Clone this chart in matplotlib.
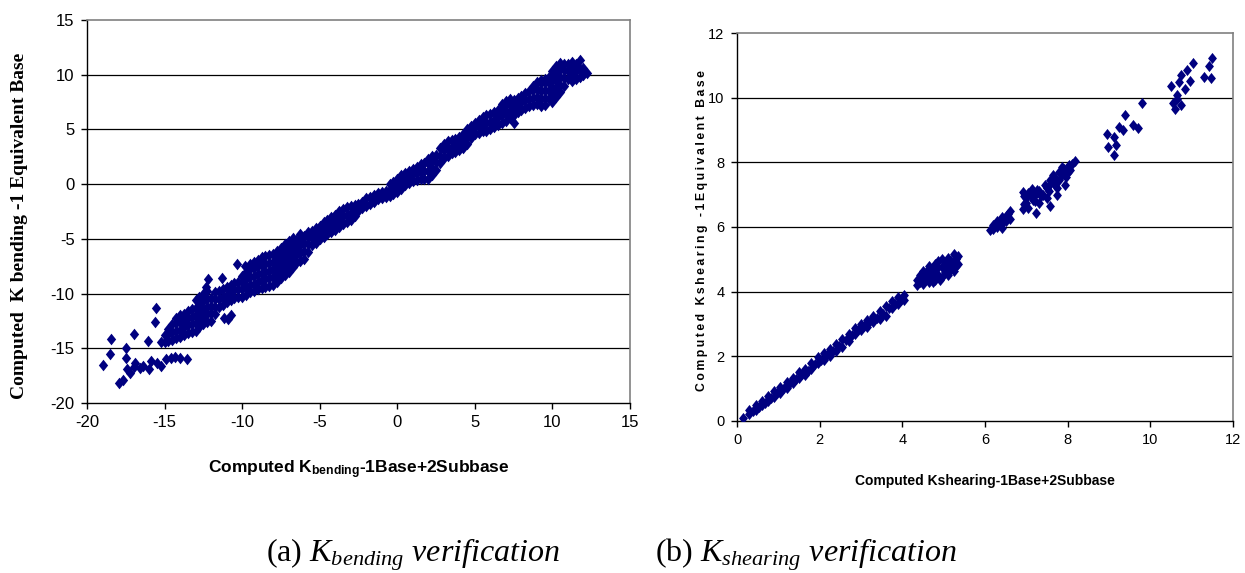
import matplotlib
matplotlib.use("Agg")
import matplotlib.pyplot as plt
from matplotlib.ticker import MultipleLocator

# ---- K bending: 1 Base + 2 Subbase vs 1 Equivalent Base ----
# main band: one x per column, with the y values found in that column
bend_col_x = [
    -15.0, -14.75, -14.5, -14.25, -14.0, -13.75, -13.5, -13.25,
    -13.0, -12.75, -12.5, -12.25, -12.0, -11.75, -11.5, -11.25,
    -11.0, -10.75, -10.5, -10.25, -10.0, -9.75, -9.5, -9.25,
    -9.0, -8.75, -8.5, -8.25, -8.0, -7.75, -7.5, -7.25,
    -7.0, -6.75, -6.5, -6.25, -6.0, -5.75, -5.5, -5.25,
    -5.0, -4.75, -4.5, -4.25, -4.0, -3.75, -3.5, -3.25,
    -3.0, -2.75, -2.5, -2.25, -2.0, -1.75, -1.5, -1.25,
    -1.0, -0.75, -0.5, -0.25, 0.0, 0.25, 0.5, 0.75,
    1.0, 1.25, 1.5, 1.75, 2.0, 2.25, 2.5, 2.75,
    3.0, 3.25, 3.5, 3.75, 4.0, 4.25, 4.5, 4.75,
    5.0, 5.25, 5.5, 5.75, 6.0, 6.25, 6.5, 6.75,
    7.0, 7.25, 7.5, 7.75, 8.0, 8.25, 8.5, 8.75,
    9.0, 9.25, 9.5, 9.75, 10.0, 10.25, 10.5, 10.75,
    11.0, 11.25, 11.5, 11.75, 12.0, 12.2,
]
bend_col_y = [
    [-14.4, -13.8], [-14.3, -13.7, -13.2], [-14.2, -13.5, -12.8], [-14.1, -13.4, -12.7, -12.2],
    [-14.0, -13.3, -12.6, -12.0], [-13.8, -13.1, -12.4, -11.9], [-13.6, -12.9, -12.2, -11.6],
    [-13.5, -12.8, -12.1, -11.4],
    [-13.4, -12.7, -12.0, -11.3, -10.6], [-13.1, -12.4, -11.7, -11.0, -10.3],
    [-12.8, -12.1, -11.4, -10.7, -10.0], [-12.6, -11.9, -11.2, -10.5, -9.8],
    [-12.5, -11.8, -11.1, -10.4], [-11.9, -11.2, -10.5, -9.9], [-11.2, -10.5, -9.8],
    [-11.0, -10.3, -9.6],
    [-10.8, -10.1, -9.4], [-10.6, -9.9, -9.2], [-10.4, -9.7, -9.0], [-10.3, -9.6, -8.9],
    [-10.3, -9.6, -8.9, -8.4], [-10.1, -9.4, -8.7, -8.0], [-9.9, -9.2, -8.5, -7.8, -7.3],
    [-9.8, -9.1, -8.4, -7.7, -7.1],
    [-9.6, -8.9, -8.2, -7.5, -6.9], [-9.5, -8.8, -8.1, -7.4, -6.7], [-9.4, -8.7, -8.0, -7.3, -6.6],
    [-9.3, -8.6, -7.9, -7.2, -6.5], [-9.2, -8.5, -7.8, -7.1, -6.4], [-8.9, -8.2, -7.5, -6.8, -6.1],
    [-8.6, -7.9, -7.2, -6.5, -5.8], [-8.3, -7.6, -6.9, -6.2, -5.5],
    [-8.0, -7.3, -6.6, -5.9, -5.2], [-7.6, -6.9, -6.2, -5.5, -4.9], [-7.2, -6.5, -5.8, -5.1],
    [-7.0, -6.3, -5.6, -4.9, -4.6], [-6.8, -6.1, -5.4, -4.7], [-6.2, -5.5, -4.8, -4.4],
    [-5.6, -4.9, -4.3], [-5.4, -4.7, -4.0],
    [-5.0, -4.4, -3.8], [-4.8, -4.2, -3.5], [-4.6, -3.9, -3.3], [-4.4, -3.7, -3.0],
    [-4.2, -3.5, -2.8], [-3.9, -3.2, -2.5], [-3.6, -2.9, -2.3], [-3.5, -2.8, -2.1],
    [-3.3, -2.6, -2.0], [-2.9, -2.2, -1.9], [-2.5, -1.8], [-2.2, -1.6],
    [-2.0, -1.3], [-1.8, -1.2], [-1.6, -1.0], [-1.4, -0.8],
    [-1.3, -0.7], [-1.2, -0.6], [-1.1, -0.5, 0.0], [-0.9, -0.3, 0.2],
    [-0.7, -0.1, 0.5], [-0.4, 0.3, 0.8], [-0.1, 0.5, 1.0], [0.1, 0.7, 1.2],
    [0.3, 0.9, 1.4], [0.4, 1.0, 1.6], [0.5, 1.2, 1.8], [0.5, 1.2, 1.9],
    [0.5, 1.2, 1.9, 2.3], [0.8, 1.5, 2.2, 2.6], [1.3, 2.0, 2.7], [1.9, 2.6, 3.3],
    [2.4, 3.1, 3.7], [2.6, 3.3, 3.9], [2.8, 3.4, 4.0], [2.9, 3.5, 4.1],
    [3.1, 3.7, 4.3], [3.3, 4.0, 4.6], [3.7, 4.4, 5.0], [4.2, 4.8, 5.3],
    [4.6, 5.2, 5.6], [4.7, 5.3, 5.9], [4.9, 5.5, 6.1], [4.9, 5.6, 6.3],
    [5.0, 5.7, 6.4], [5.2, 5.9, 6.6], [5.4, 6.1, 6.8], [5.6, 6.3, 7.0, 7.3],
    [5.8, 6.5, 7.2, 7.6], [6.0, 6.7, 7.4, 7.8], [5.6, 6.3, 7.0, 7.7], [6.6, 7.2, 7.9],
    [6.8, 7.5, 8.1], [7.0, 7.7, 8.3], [7.1, 7.8, 8.5], [7.2, 7.9, 8.6, 9.0],
    [7.3, 8.0, 8.7, 9.3], [7.1, 7.8, 8.5, 9.2, 9.5], [7.2, 7.9, 8.6, 9.3, 9.6], [7.8, 8.5, 9.2, 9.8],
    [7.5, 8.2, 8.9, 9.6, 10.3], [8.0, 8.7, 9.4, 10.1, 10.8], [8.4, 9.1, 9.8, 10.5, 11.1],
    [9.0, 9.7, 10.4, 11.0],
    [9.6, 10.3, 11.0], [9.4, 10.1, 10.8, 11.2], [9.6, 10.3, 11.0], [9.8, 10.5, 11.3],
    [10.0, 10.6], [10.2],
]
# scattered points off the band (low end and middle)
bend_out_x = [-19.0, -18.45, -18.55, -17.95, -17.5, -17.5, -17.0, -16.1, -15.55, -15.6,
              -15.2, -17.7, -17.2, -17.45, -16.9, -16.4, -15.9, -15.2, -14.6, -14.0,
              -13.55, -16.6, -15.5, -14.9, -14.3, -16.0, -17.0, -12.2, -12.3, -11.3,
              -11.15, -10.9, -10.7, -10.3, -9.8]
bend_out_y = [-16.55, -14.15, -15.5, -18.2, -15.0, -15.9, -13.7, -14.3, -11.3, -12.6,
              -14.4, -17.9, -17.3, -16.9, -16.3, -16.6, -16.2, -16.6, -15.9, -15.9,
              -16.0, -16.8, -16.3, -16.0, -15.8, -16.9, -16.7, -8.7, -9.4, -8.6,
              -12.2, -12.3, -12.0, -7.3, -7.5]

# ---- K shearing: 1 Base + 2 Subbase vs 1 Equivalent Base ----
shear_x = [
    0.14,
    0.30, 0.30, 0.375, 0.45, 0.45, 0.525, 0.60, 0.60, 0.675, 0.75, 0.75, 0.825,
    0.90, 0.90, 0.975, 1.05, 1.05, 1.125, 1.20, 1.20, 1.275, 1.35, 1.35, 1.425,
    1.50, 1.50, 1.575, 1.65, 1.65, 1.725, 1.80, 1.80, 1.875, 1.95, 1.95, 2.025,
    2.10, 2.10, 2.175, 2.25, 2.25, 2.325, 2.40, 2.40, 2.475, 2.55, 2.55, 2.625,
    2.70, 2.70, 2.775, 2.85, 2.85, 2.925, 3.00, 3.00, 3.075, 3.15, 3.15, 3.225,
    3.30, 3.30, 3.375, 3.45, 3.45, 3.525, 3.60, 3.60, 3.675, 3.75, 3.75, 3.825,
    3.90, 3.90, 3.975, 4.05, 4.05,
    4.35, 4.35, 4.50, 4.50, 4.50, 4.65, 4.65, 4.65, 4.80, 4.80, 4.80,
    4.95, 4.95, 4.95, 5.10, 5.10, 5.10, 5.25, 5.25, 5.25, 5.35, 5.35,
    6.12, 6.20, 6.20, 6.30, 6.30, 6.40, 6.40, 6.50, 6.50, 6.60, 6.60,
    6.91, 6.91, 7.24, 7.58, 7.75, 7.94, 8.17, 7.56, 7.14, 7.80, 8.03,
    6.95, 7.00, 7.10, 7.20, 7.30, 7.40, 7.50, 7.60, 7.70, 7.75, 7.85, 7.90, 8.00,
    8.96, 8.98, 9.13, 9.17, 9.13, 9.24, 9.38, 9.34, 9.57, 9.69, 9.80,
    10.50, 10.60, 10.64, 10.69, 10.74, 10.83, 10.88, 10.74, 10.97, 11.04,
    11.30, 11.41, 11.47, 11.50, 10.55, 10.64,
]
shear_y = [
    0.08,
    0.22, 0.35, 0.30, 0.35, 0.48, 0.42, 0.48, 0.62, 0.56, 0.62, 0.78, 0.72,
    0.74, 0.92, 0.86, 0.88, 1.05, 1.02, 1.02, 1.20, 1.16, 1.18, 1.34, 1.30,
    1.32, 1.50, 1.46, 1.42, 1.62, 1.56, 1.62, 1.80, 1.76, 1.78, 1.98, 1.90,
    1.90, 2.10, 2.05, 2.02, 2.22, 2.18, 2.15, 2.38, 2.32, 2.30, 2.55, 2.50,
    2.48, 2.70, 2.66, 2.70, 2.88, 2.82, 2.80, 3.00, 2.95, 2.92, 3.12, 3.08,
    3.05, 3.25, 3.20, 3.15, 3.40, 3.32, 3.25, 3.55, 3.48, 3.50, 3.72, 3.62,
    3.62, 3.82, 3.75, 3.75, 3.90,
    4.20, 4.35, 4.25, 4.45, 4.65, 4.30, 4.55, 4.80, 4.35, 4.60, 4.85,
    4.45, 4.75, 5.00, 4.50, 4.80, 5.05, 4.65, 4.90, 5.15, 4.85, 5.10,
    5.92, 6.05, 5.95, 6.20, 6.00, 6.30, 5.98, 6.20, 6.35, 6.50, 6.25,
    6.57, 7.09, 6.42, 6.65, 6.98, 7.29, 8.04, 7.45, 7.19, 7.70, 7.91,
    6.70, 6.90, 7.00, 6.80, 7.10, 7.00, 7.20, 7.35, 7.50, 7.20, 7.60, 7.80, 7.70,
    8.89, 8.48, 8.22, 8.53, 8.79, 9.10, 9.46, 8.99, 9.17, 9.06, 9.84,
    10.36, 9.66, 9.97, 10.49, 10.69, 10.28, 10.85, 9.76, 10.51, 11.07,
    10.64, 10.97, 10.62, 11.24, 9.82, 10.07,
]
# extra points inside the clusters around x = 4.4-5.3, 6.2-6.6 and 6.9-8.1
shear_fill_x = [4.42, 4.42, 4.57, 4.57, 4.72, 4.72, 4.87, 4.87, 4.87, 5.02, 5.02,
                5.17, 5.17, 5.30, 5.30, 4.75, 4.90,
                6.25, 6.35, 6.45, 6.55,
                6.95, 7.05, 7.05, 7.15, 7.25, 7.30, 7.35, 7.45, 7.50, 7.55,
                7.65, 7.70, 7.80, 7.85, 7.95, 8.05, 8.10, 7.20, 7.00]
shear_fill_y = [4.30, 4.50, 4.40, 4.60, 4.45, 4.70, 4.50, 4.75, 4.95, 4.60, 4.85,
                4.70, 4.95, 4.80, 5.00, 4.30, 4.35,
                6.10, 6.10, 6.20, 6.40,
                6.95, 6.60, 7.05, 6.85, 7.15, 6.75, 6.95, 7.30, 6.90, 7.10,
                7.60, 7.30, 7.45, 7.85, 7.55, 7.75, 7.95, 7.00, 6.75]

NAVY = "#000080"
BORDER = "#808080"
SANS = ["Liberation Sans", "DejaVu Sans"]
# slightly tall diamond, like the spreadsheet marker
DIAMOND = [(0, 1), (0.8, 0), (0, -1), (-0.8, 0), (0, 1)]

plt.rcParams["axes.unicode_minus"] = False
plt.rcParams["mathtext.fontset"] = "custom"
plt.rcParams["mathtext.rm"] = "Liberation Serif"
plt.rcParams["mathtext.it"] = "Liberation Serif:italic"
plt.rcParams["mathtext.bf"] = "Liberation Sans:bold"


def style_axes(ax, tick_size):
    # Excel-like plot area: dark left/bottom axes, grey frame on the other sides
    for side in ("top", "right"):
        ax.spines[side].set_color(BORDER)
        ax.spines[side].set_linewidth(1.2)
    for side in ("left", "bottom"):
        ax.spines[side].set_color("black")
        ax.spines[side].set_linewidth(1.0)
    ax.tick_params(direction="out", length=4, width=1, colors="black", pad=5,
                   labelsize=tick_size, top=False, right=False)
    for lab in ax.get_xticklabels() + ax.get_yticklabels():
        lab.set_family(SANS)
    ymin, ymax = ax.get_ylim()
    for t in ax.get_yticks():
        if ymin < t < ymax:
            ax.axhline(t, color="black", lw=0.9, zorder=1)


# flatten the band columns into point lists
band_x, band_y = [], []
for cx, ys in zip(bend_col_x, bend_col_y):
    band_x += [cx] * len(ys)
    band_y += ys

fig = plt.figure(figsize=(12.45, 5.73), dpi=100)

# (a) bending
ax1 = fig.add_axes([0.0699, 0.2967, 0.4361, 0.6684])
ax1.scatter(band_x, band_y, marker=DIAMOND, s=70, color=NAVY, linewidths=0, zorder=3)
ax1.scatter(bend_out_x, bend_out_y, marker=DIAMOND, s=70, color=NAVY, linewidths=0, zorder=3)
ax1.set_xlim(-20, 15)
ax1.set_ylim(-20, 15)
ax1.xaxis.set_major_locator(MultipleLocator(5))
ax1.yaxis.set_major_locator(MultipleLocator(5))
style_axes(ax1, 12)
ax1.set_ylabel("Computed  K bending -1 Equivalent Base", family="Liberation Serif",
               fontweight="bold", fontsize=14)
ax1.yaxis.set_label_coords(-0.108, 0.462)
ax1.set_xlabel(r"Computed K$_{\mathbf{bending}}$-1Base+2Subbase", family=SANS,
               fontweight="bold", fontsize=12.5, labelpad=20)

# (b) shearing
ax2 = fig.add_axes([0.5920, 0.2653, 0.3984, 0.6771])
ax2.scatter(shear_x, shear_y, marker=DIAMOND, s=64, color=NAVY, linewidths=0, zorder=3)
ax2.scatter(shear_fill_x, shear_fill_y, marker=DIAMOND, s=64, color=NAVY, linewidths=0, zorder=3)
ax2.set_xlim(0, 12)
ax2.set_ylim(0, 12)
ax2.xaxis.set_major_locator(MultipleLocator(2))
ax2.yaxis.set_major_locator(MultipleLocator(2))
style_axes(ax2, 10.5)
spaced = "\u2009".join("Computed Kshearing -1Equivalent Base")
ax2.set_ylabel(spaced, family=SANS, fontweight="bold", fontsize=8.8)
ax2.yaxis.set_label_coords(-0.058, 0.49)
ax2.set_xlabel("Computed Kshearing-1Base+2Subbase", family=SANS,
               fontweight="bold", fontsize=10, labelpad=19)

# captions under the panels
fig.text(413 / 1245, 1 - 555 / 573, r"(a) $K_{bending}$ $verification$",
         family="Liberation Serif", fontsize=23, ha="center", va="center")
fig.text(806 / 1245, 1 - 555 / 573, r"(b) $K_{shearing}$ $verification$",
         family="Liberation Serif", fontsize=23, ha="center", va="center")

fig.savefig("out.png", dpi=100)
